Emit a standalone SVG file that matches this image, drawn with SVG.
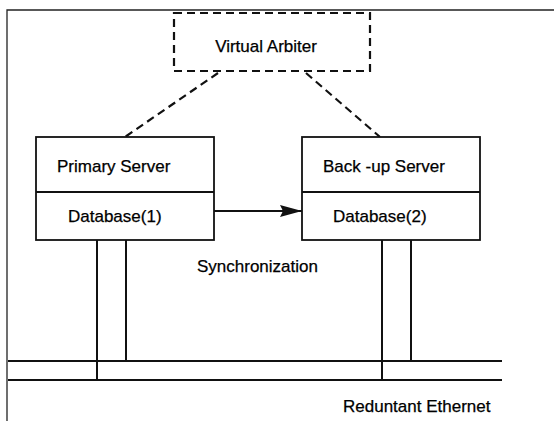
<svg xmlns="http://www.w3.org/2000/svg" width="554" height="421" viewBox="0 0 554 421">
<style>
text{font-family:"Liberation Sans",Arial,sans-serif;font-size:17px;fill:#000;stroke:#000;stroke-width:0.25}
.ln{stroke:#111;stroke-width:2;fill:none}
.thin{stroke:#222;stroke-width:1.3;fill:none}
.dash{stroke:#111;stroke-width:2.2;fill:none;stroke-dasharray:8,5}
.box{fill:#fff;stroke:#111;stroke-width:1.8}
</style>
<defs>
<marker id="ah" markerWidth="22" markerHeight="12" refX="22" refY="6" orient="auto" markerUnits="userSpaceOnUse">
<path d="M0,0 L22,6 L0,12 L3,6 Z" fill="#111"/>
</marker>
</defs>
<rect width="554" height="421" fill="#fff"/>
<g id="frame">
<path class="thin" d="M7,421 V10 H554"/>
</g>
<g id="connectors">
<path class="dash" d="M218,73 L125,137"/>
<path class="dash" d="M306,73 L380,137"/>
<path class="ln" d="M214,211 L302,211" marker-end="url(#ah)"/>
<path class="ln" d="M97,240 V380 M126,240 V361 M382,240 V380 M411,240 V361"/>
<path class="ln" d="M8,361 H502 M8,380 H502"/>
</g>
<g id="arbiter">
<rect class="dash" x="174" y="13" width="196" height="58" fill="none"/>
<text x="266" y="52" text-anchor="middle">Virtual Arbiter</text>
</g>
<g id="primary">
<rect class="box" x="36" y="137" width="178" height="103"/>
<line class="ln" x1="36" y1="192" x2="214" y2="192" stroke-width="1.8"/>
<text x="57" y="172">Primary Server</text>
<text x="68" y="222">Database(1)</text>
</g>
<g id="backup">
<rect class="box" x="302" y="137" width="178" height="103"/>
<line class="ln" x1="302" y1="192" x2="480" y2="192" stroke-width="1.8"/>
<text x="323" y="172">Back -up Server</text>
<text x="333" y="222">Database(2)</text>
</g>
<g id="labels">
<text x="197" y="272">Synchronization</text>
<text x="343" y="412">Reduntant Ethernet</text>
</g>
</svg>
